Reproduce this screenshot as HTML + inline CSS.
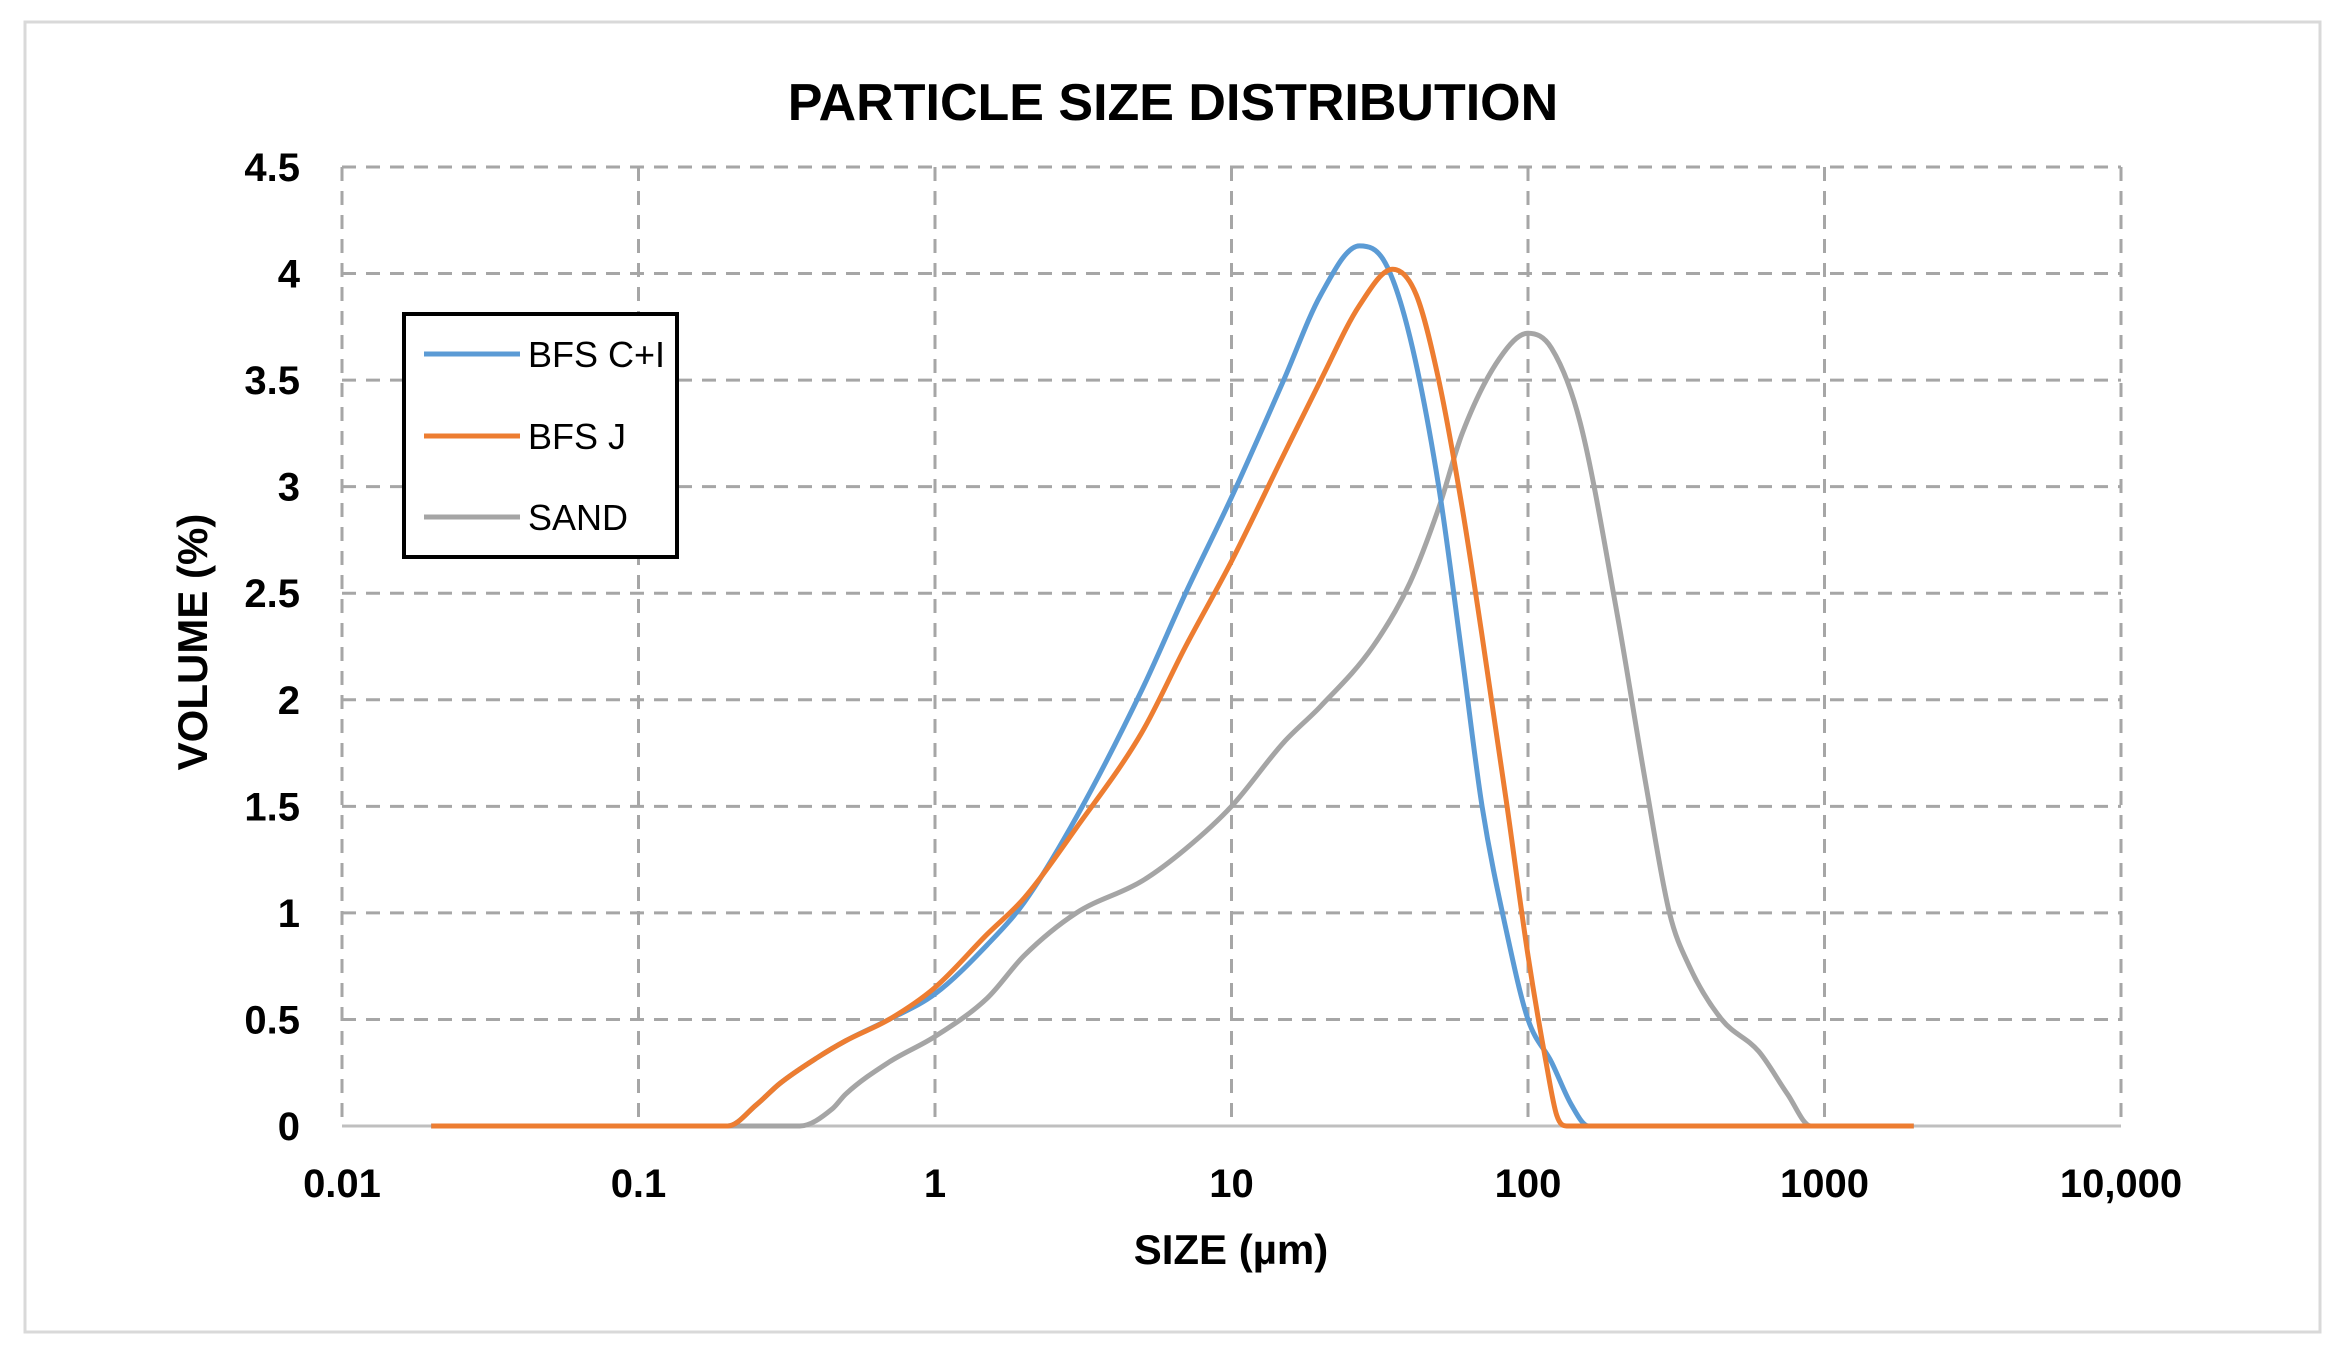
<!DOCTYPE html>
<html><head><meta charset="utf-8"><style>
html,body{margin:0;padding:0;background:#fff;}
svg{display:block;font-family:"Liberation Sans",Arial,sans-serif;}
</style></head><body>
<svg id="chart" width="2340" height="1353" viewBox="0 0 2340 1353">
<rect x="25" y="22" width="2295" height="1310" fill="#fff" stroke="#d9d9d9" stroke-width="3"/>
<text x="1173" y="120" text-anchor="middle" font-size="52" font-weight="bold">PARTICLE SIZE DISTRIBUTION</text>
<g id="grid"></g>
<g id="yticks"></g>
<g id="xticks"></g>
<g id="series"></g>
<text x="1231" y="1264" text-anchor="middle" font-size="42" font-weight="bold">SIZE (µm)</text>
<text transform="translate(207,642) rotate(-90)" text-anchor="middle" font-size="42" font-weight="bold">VOLUME (%)</text>
<g>
<rect x="404" y="314" width="273" height="243" fill="#fff" stroke="#000" stroke-width="4"/>
<g><line x1="424" y1="354" x2="520" y2="354" stroke="#5b9bd5" stroke-width="5"/><text x="528" y="367" font-size="36">BFS C+I</text></g>
<g><line x1="424" y1="436" x2="520" y2="436" stroke="#ed7d31" stroke-width="5"/><text x="528" y="449" font-size="36">BFS J</text></g>
<g><line x1="424" y1="517" x2="520" y2="517" stroke="#a5a5a5" stroke-width="5"/><text x="528" y="530" font-size="36">SAND</text></g>
</g>
</svg>
<script>
const yTicks=[0,0.5,1,1.5,2,2.5,3,3.5,4,4.5];
const yTickLabels=["0","0.5","1","1.5","2","2.5","3","3.5","4","4.5"];
const xTicks=[0.01,0.1,1,10,100,1000,10000];
const xTickLabels=["0.01","0.1","1","10","100","1000","10,000"];
const bfsciX=[0.02,0.2,0.25,0.3,0.4,0.5,0.7,1,1.5,2,3,5,7,10,15,20,27,33,40,50,60,70,85,100,120,140,160,2000];
const bfsciY=[0,0,0.1,0.2,0.32,0.4,0.5,0.62,0.85,1.05,1.45,2.05,2.5,2.95,3.5,3.9,4.13,4.05,3.7,3.0,2.2,1.5,0.9,0.5,0.3,0.1,0,0];
const bfsjX=[0.02,0.2,0.25,0.3,0.4,0.5,0.7,1,1.5,2,3,5,7,10,15,20,27,35,42,50,60,70,85,100,115,125,135,2000];
const bfsjY=[0,0,0.1,0.2,0.32,0.4,0.5,0.65,0.9,1.07,1.4,1.85,2.25,2.65,3.15,3.5,3.85,4.02,3.9,3.5,2.9,2.3,1.5,0.8,0.3,0.05,0,0];
const sandX=[0.02,0.35,0.45,0.5,0.7,1,1.5,2,3,5,7,10,15,20,30,40,50,60,80,100,120,150,200,250,300,350,450,600,750,900,1800];
const sandY=[0,0,0.08,0.15,0.3,0.42,0.6,0.8,1.0,1.15,1.3,1.5,1.8,1.97,2.25,2.55,2.9,3.25,3.6,3.72,3.65,3.3,2.4,1.6,1.0,0.75,0.5,0.35,0.15,0,0];
const L=342,R=2121,T=167,B=1126;
const xs=v=>L+(Math.log10(v)+2)/6*(R-L);
const ys=v=>B-v/4.5*(B-T);
const NS="http://www.w3.org/2000/svg";
function mk(tag,attrs,parent){const e=document.createElementNS(NS,tag);for(const k in attrs)e.setAttribute(k,attrs[k]);parent.appendChild(e);return e;}
const grid=document.getElementById('grid');
yTicks.forEach((t,i)=>{
 const ln=mk('line',{x1:L,x2:R,y1:ys(t),y2:ys(t),stroke:i===0?'#bfbfbf':'#a6a6a6','stroke-width':3,'stroke-dasharray':i===0?'none':'14 10'},grid);
 
 
 const tx=mk('text',{x:300,y:ys(t)+14,'text-anchor':'end','font-size':40,'font-weight':'bold'},document.getElementById('yticks'));
 tx.textContent=yTickLabels[i];
 
 
});
xTicks.forEach((t,i)=>{
 const ln=mk('line',{x1:xs(t),x2:xs(t),y1:T,y2:B,stroke:'#a6a6a6','stroke-width':3,'stroke-dasharray':'14 10'},grid);
 
 
 const tx=mk('text',{x:xs(t),y:1197,'text-anchor':'middle','font-size':40,'font-weight':'bold'},document.getElementById('xticks'));
 tx.textContent=xTickLabels[i];
 
 
});
function monoPath(X,Y){
 const px=X.map(xs),py=Y.map(ys),n=px.length;const d=[],m=new Array(n);
 for(let i=0;i<n-1;i++)d.push((py[i+1]-py[i])/(px[i+1]-px[i]));
 m[0]=d[0];m[n-1]=d[n-2];
 for(let i=1;i<n-1;i++){m[i]=(d[i-1]*d[i]<=0)?0:(d[i-1]+d[i])/2;}
 for(let i=0;i<n-1;i++){if(d[i]===0){m[i]=0;m[i+1]=0;continue;}const a=m[i]/d[i],b=m[i+1]/d[i],s=a*a+b*b;if(s>9){const t=3/Math.sqrt(s);m[i]=t*a*d[i];m[i+1]=t*b*d[i];}}
 let p=`M${px[0]},${py[0]}`;
 for(let i=0;i<n-1;i++){const h=(px[i+1]-px[i])/3;p+=` C${px[i]+h},${py[i]+m[i]*h} ${px[i+1]-h},${py[i+1]-m[i+1]*h} ${px[i+1]},${py[i+1]}`;}
 return p;
}
const ser=document.getElementById('series');
const s1=mk('path',{d:monoPath(sandX,sandY),fill:'none',stroke:'#a5a5a5','stroke-width':5},ser);


const s2=mk('path',{d:monoPath(bfsciX,bfsciY),fill:'none',stroke:'#5b9bd5','stroke-width':5},ser);


const s3=mk('path',{d:monoPath(bfsjX,bfsjY),fill:'none',stroke:'#ed7d31','stroke-width':5},ser);


</script>
</body></html>
